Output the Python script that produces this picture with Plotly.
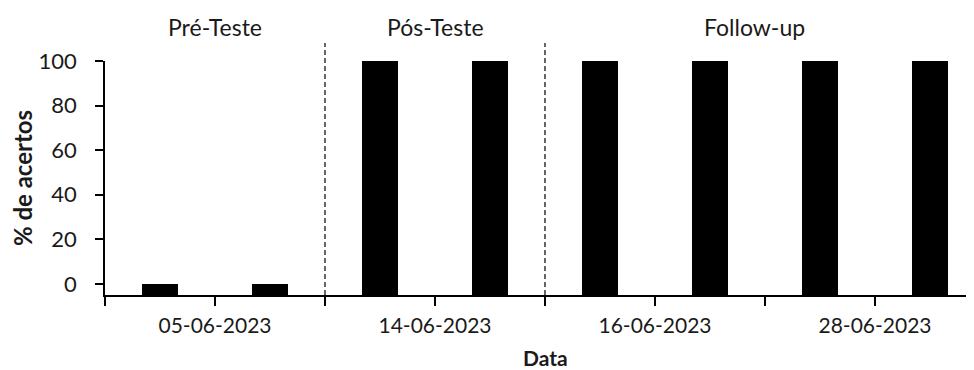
import plotly.graph_objects as go

# data
slots = [0.5, 1.5, 2.5, 3.5, 4.5, 5.5, 6.5, 7.5]
acertos = [0, 0, 100, 100, 100, 100, 100, 100]
date_ticks = [1, 3, 5, 7]
date_labels = ["05-06-2023", "14-06-2023", "16-06-2023", "28-06-2023"]
phase_names = ["Pré-Teste", "Pós-Teste", "Follow-up"]
phase_centers = [1, 3, 5.9]
phase_breaks = [2, 4]

Y_MIN = -5
FONT = "Lato, 'Open Sans', sans-serif"
TXT = "#1a1a1a"

fig = go.Figure()
fig.add_trace(go.Bar(
	x=slots,
	y=[v - Y_MIN for v in acertos],
	base=Y_MIN,
	width=0.32,
	marker=dict(color="black", line=dict(width=0)),
	hovertemplate="%{x}: %{customdata}%<extra></extra>",
	customdata=acertos,
))

tickvals = list(range(0, 9))
ticktext = []
for t in tickvals:
	ticktext.append(date_labels[date_ticks.index(t)] if t in date_ticks else "")

for xb in phase_breaks:
	fig.add_shape(
		type="line", xref="x", yref="paper",
		x0=xb, x1=xb, y0=0, y1=1.077,
		line=dict(color="black", width=1.2, dash="5px,3px"),
	)

for name, xc in zip(phase_names, phase_centers):
	fig.add_annotation(
		x=xc, xref="x", y=1.145, yref="paper", yanchor="middle",
		text=name, showarrow=False,
		font=dict(family=FONT, size=23, color=TXT),
	)

# x axis title sits lower than plotly puts it, so draw it as an annotation
fig.add_annotation(
	x=4, xref="x", y=-0.268, yref="paper", yanchor="middle",
	text="<b>Data</b>", showarrow=False,
	font=dict(family=FONT, size=21, color=TXT),
	borderpad=0,
)

# page body has an 8px margin, so the figure is 8px smaller than the window
fig.update_layout(
	width=966,
	height=362,
	margin=dict(l=97, r=0, t=53, b=75),
	paper_bgcolor="white",
	plot_bgcolor="white",
	showlegend=False,
	bargap=0,
	font=dict(family=FONT, size=20, color=TXT),
	xaxis=dict(
		range=[0, 7.9],
		tickmode="array",
		tickvals=tickvals,
		ticktext=ticktext,
		ticks="outside",
		ticklen=9,
		tickwidth=1.5,
		tickcolor="black",
		showline=True,
		linecolor="black",
		linewidth=1.5,
		showgrid=False,
		zeroline=False,
		automargin=False,
		ticklabelstandoff=2,
		tickfont=dict(family=FONT, size=21, color=TXT),
	),
	yaxis=dict(
		range=[Y_MIN, 100],
		tickvals=[0, 20, 40, 60, 80, 100],
		ticks="outside",
		ticklen=8,
		tickwidth=1.5,
		tickcolor="black",
		showline=True,
		linecolor="black",
		linewidth=1.5,
		showgrid=False,
		zeroline=False,
		ticklabelstandoff=14,
		tickfont=dict(family=FONT, size=22, color=TXT),
		title=dict(text="<b>% de acertos</b>", font=dict(family=FONT, size=24, color=TXT), standoff=10),
	),
)

fig.write_html("out.html")
